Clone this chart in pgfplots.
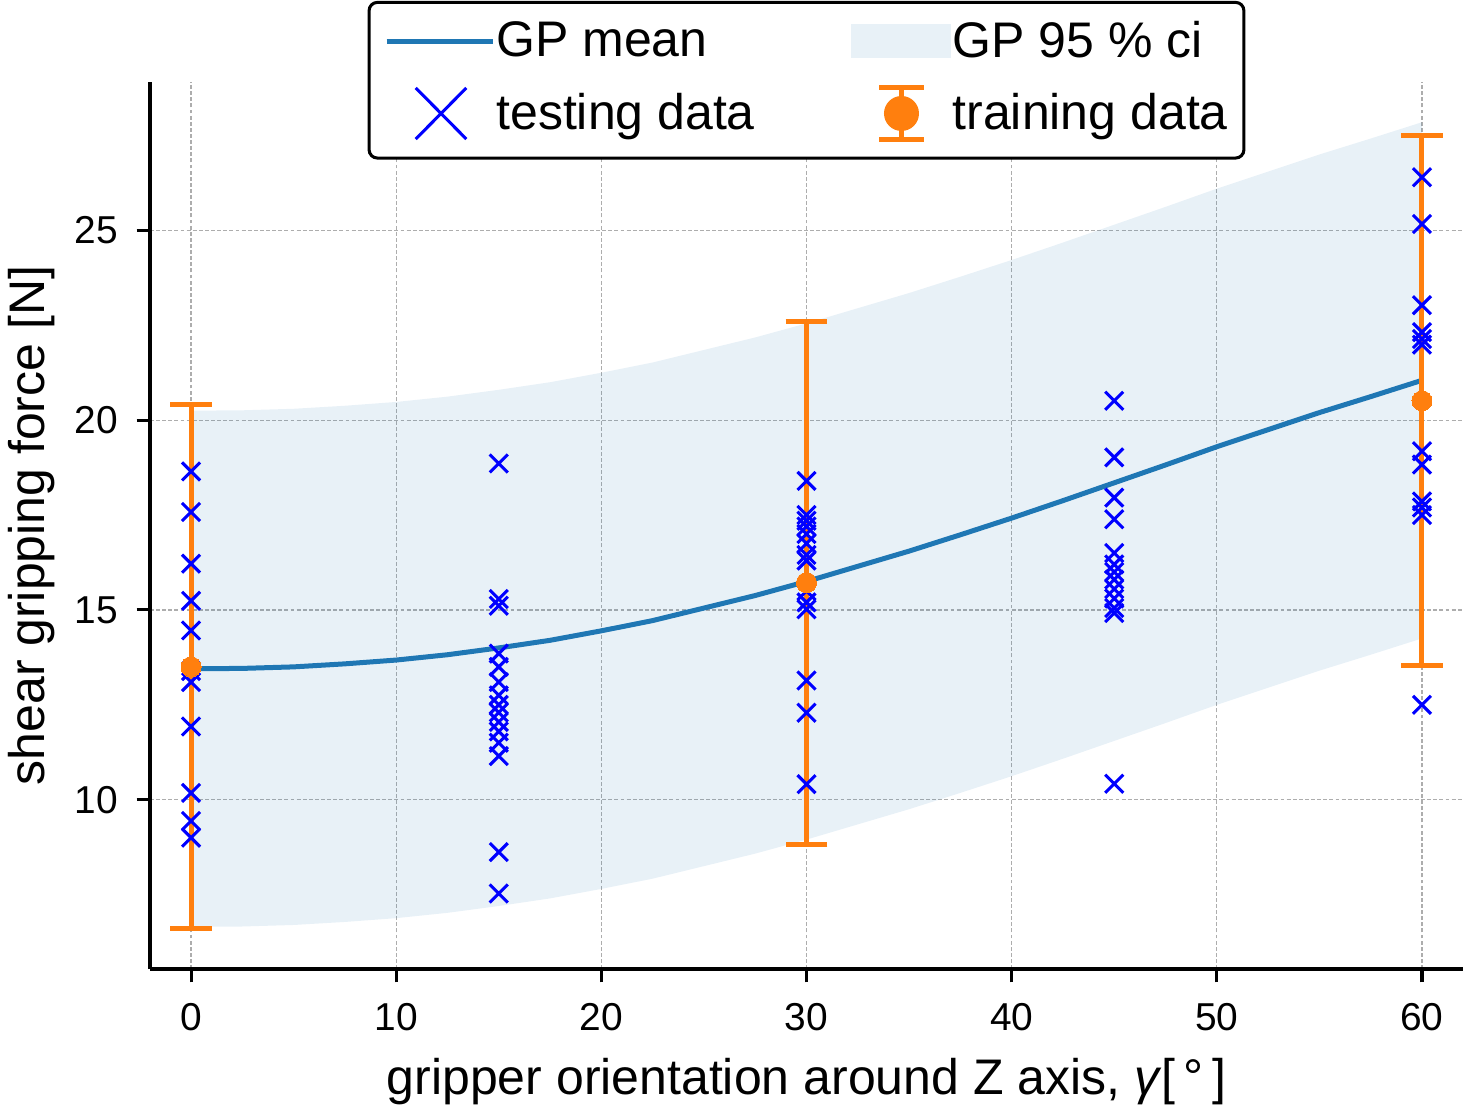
\documentclass[border=0pt]{standalone}
\usepackage{fontspec}
\setmainfont{Liberation Sans}
\usepackage{pgfplots}
\usepackage{pgfplotstable}
\pgfplotsset{compat=1.18}
\usepgfplotslibrary{fillbetween}
\usetikzlibrary{calc}
\definecolor{c0}{HTML}{1F77B4}
\definecolor{c1}{HTML}{FF7F0E}

\pgfplotstableread{
x m lo hi
0 13.45 6.65 20.25
2.5 13.46 6.66 20.26
5 13.50 6.70 20.30
7.5 13.58 6.78 20.38
10 13.68 6.88 20.48
12.5 13.82 7.02 20.62
15 14.00 7.20 20.80
17.5 14.20 7.40 21.00
20 14.45 7.65 21.25
22.5 14.72 7.92 21.52
25 15.05 8.25 21.85
27.5 15.38 8.58 22.18
30 15.75 8.95 22.55
32.5 16.15 9.35 22.95
35 16.55 9.75 23.35
37.5 16.98 10.18 23.78
40 17.42 10.62 24.22
42.5 17.88 11.08 24.68
45 18.35 11.55 25.15
47.5 18.82 12.02 25.62
50 19.30 12.50 26.10
52.5 19.75 12.95 26.55
55 20.20 13.40 27.00
57.5 20.62 13.82 27.42
60 21.05 14.25 27.85
}\gp

\pgfplotstableread{
x y
0 18.65
0 17.58
0 16.22
0 15.24
0 14.46
0 13.39
0 13.10
0 11.93
0 10.18
0 9.44
0 9.00
15 18.86
15 15.29
15 15.11
15 13.85
15 13.50
15 13.10
15 12.75
15 12.50
15 12.30
15 12.05
15 11.80
15 11.50
15 11.15
15 8.62
15 7.53
30 18.40
30 17.50
30 17.35
30 17.20
30 17.00
30 16.75
30 16.45
30 16.30
30 15.50
30 15.20
30 15.02
30 13.14
30 12.29
30 10.41
45 20.51
45 19.02
45 17.96
45 17.39
45 16.50
45 16.20
45 16.00
45 15.80
45 15.55
45 15.30
45 15.05
45 14.92
45 10.42
60 26.40
60 25.17
60 23.03
60 22.32
60 22.14
60 21.99
60 19.18
60 18.83
60 17.86
60 17.70
60 17.50
60 12.50
}\testing

\pgfplotstableread{
x y e
0 13.50 6.90
30 15.72 6.89
60 20.51 6.98
}\training

\begin{document}
\begin{tikzpicture}
\begin{axis}[
  scale only axis, width=472.68pt, height=319.32pt,
  xmin=-2, xmax=62, ymin=5.54, ymax=28.91,
  axis x line=bottom, axis y line=left,
  axis line style={-, line width=1.1pt, black},
  xtick={0,10,20,30,40,50,60}, ytick={10,15,20,25},
  tick align=outside, major tick length=4.8pt,
  tick style={line width=1.1pt, black},
  grid=major,
  major grid style={dash pattern=on 1.4pt off 0.8pt, line width=0.4pt, color=black!32},
  /pgf/number format/assume math mode=true,
  ticklabel style={font=\fontsize{14}{16.8}\selectfont},
  xticklabel style={yshift=-4pt},
  yticklabel style={xshift=-3.2pt},
  label style={font=\fontsize{18}{21.6}\selectfont},
  xlabel={gripper orientation around Z axis, \textit{γ}[\,°\,]},
  ylabel={shear gripping force [N]},
  xlabel style={at={(axis description cs:0.5,0)}, anchor=base, inner sep=0pt, yshift=-45pt},
  ylabel style={at={(axis description cs:-0.07235,0.5)}, anchor=south, inner sep=0pt},
  legend columns=2,
  legend cell align=left,
  legend style={at={(0.5,1.002)}, anchor=center, draw=black, line width=1.1pt,
    rounded corners=3pt, fill=white,
    font=\fontsize{18}{21.6}\selectfont,
    /tikz/every even column/.append style={column sep=34.4pt},
    inner xsep=5.4pt, inner ysep=5.65pt, row sep=7.4pt,
    nodes={inner xsep=0.4pt, inner ysep=1pt}},
]
\addlegendimage{legend image code/.code={\draw[c0, line width=1.8pt, sharp corners] (0pt,0pt) -- (38.2pt,0pt);}}
\addlegendentry{GP mean}
\addlegendimage{legend image code/.code={\path[fill=c0, fill opacity=0.1, draw=none, sharp corners] (0pt,-6.2pt) rectangle (36pt,6.2pt);}}
\addlegendentry{GP 95 \% ci}
\addlegendimage{legend image code/.code={\draw[blue, line width=1.1pt, sharp corners] (10.5pt,-9.2pt) -- (28.7pt,9.2pt) (10.5pt,9.2pt) -- (28.7pt,-9.2pt);}}
\addlegendentry{testing data}
\addlegendimage{legend image code/.code={\draw[c1, line width=1.8pt, sharp corners] (18pt,-9.5pt) -- (18pt,9.5pt) (10pt,-9.5pt) -- (26pt,-9.5pt) (10pt,9.5pt) -- (26pt,9.5pt); \path[fill=c1, draw=none] (18pt,0pt) circle (6.3pt);}}
\addlegendentry{training data}

\addplot[name path=up, draw=none, forget plot] table[x=x, y=hi] {\gp};
\addplot[name path=dn, draw=none, forget plot] table[x=x, y=lo] {\gp};
\addplot[fill=c0, fill opacity=0.1, draw=none, forget plot] fill between[of=up and dn];
\addplot[c0, line width=1.8pt, forget plot] table[x=x, y=m] {\gp};
\addplot[c1, only marks, mark=*, mark size=3.6pt, mark options={draw=c1, line width=0pt, fill=c1}, forget plot,
  error bars/.cd, y dir=both, y explicit,
  error bar style={line width=1.8pt, c1},
  error mark options={rotate=90, line width=1.8pt, mark size=7.5pt, c1}]
  table[x=x, y=y, y error=e] {\training};
\addplot[blue, only marks, mark=x, mark size=4.6pt, mark options={line width=1.1pt}, forget plot] table[x=x, y=y] {\testing};
\addplot[c1, only marks, mark=*, mark size=3.6pt, mark options={draw=c1, line width=0pt, fill=c1}, forget plot] table[x=x, y=y] {\training};
\end{axis}
\pgfresetboundingbox
\path ($(current axis.south west)+(-54pt,-50.4pt)$) rectangle ($(current axis.north east)+(2.52pt,29.52pt)$);
\end{tikzpicture}
\end{document}
